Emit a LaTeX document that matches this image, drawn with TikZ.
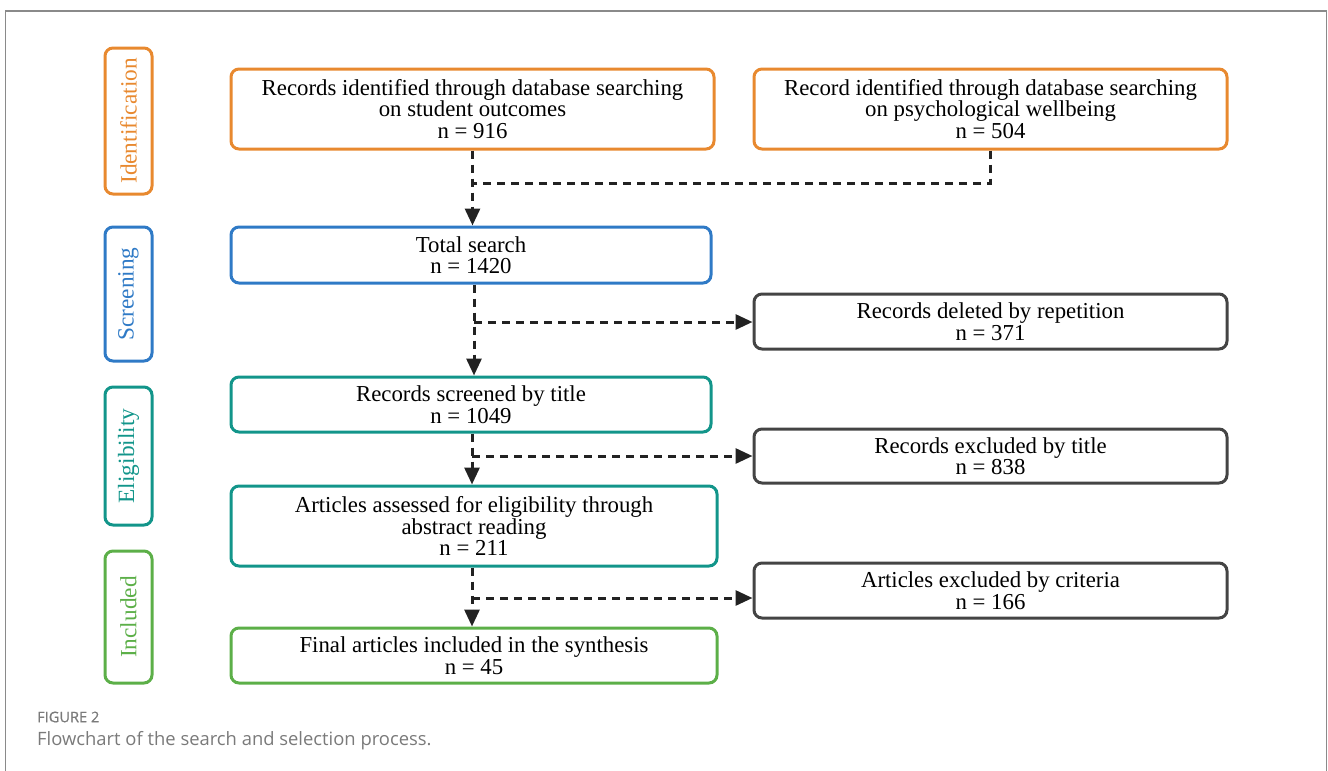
\documentclass[tikz,border=0pt]{standalone}
\usepackage{fontspec}
\setmainfont{Liberation Serif}
\newfontfamily\capfont{Open Sans}
\newfontfamily\capboldfont[FakeBold=0.6]{Open Sans}
\usetikzlibrary{arrows.meta}
\definecolor{cOrange}{HTML}{E8892F}
\definecolor{cBlue}{HTML}{2F7AC6}
\definecolor{cTeal}{HTML}{12958A}
\definecolor{cGreen}{HTML}{5CAF48}
\definecolor{cGray}{HTML}{444444}
\definecolor{cArrow}{HTML}{222222}
\definecolor{cFrame}{HTML}{8A8A8A}
\definecolor{cCap}{HTML}{7A7A7A}
\tikzset{
  mainbox/.style={draw, line width=3pt, rounded corners=8pt, align=center, inner sep=0pt,
    font=\fontsize{22.8}{21.6}\selectfont, text=black},
  sidebox/.style={draw, line width=3pt, rounded corners=8pt, rotate=90, inner sep=0pt,
    minimum height=47pt, font=\fontsize{23.3}{24}\selectfont},
  flowline/.style={line width=3pt, draw=cArrow, dash pattern=on 8pt off 6pt},
  flowarrow/.style={flowline, -{Triangle[length=17pt,width=15pt,fill=cArrow]}}
}
\begin{document}
\begin{tikzpicture}[x=1pt,y=-1pt]
\useasboundingbox (0,0) rectangle (1328,771);
% outer frame
\draw[cFrame, line width=1.5pt] (5.5,771) -- (5.5,11) -- (1326.5,11) -- (1326.5,771);

% side labels
\node[sidebox, draw=cOrange, text=cOrange, minimum width=146pt] (sid) at (128.5,121) {Identification};
\node[sidebox, draw=cBlue, text=cBlue, minimum width=134pt] (sscr) at (128.5,294) {Screening};
\node[sidebox, draw=cTeal, text=cTeal, minimum width=138pt] (selig) at (128.5,456) {Eligibility};
\node[sidebox, draw=cGreen, text=cGreen, minimum width=132pt] (sincl) at (128.5,617) {Included};

% main boxes
\node[mainbox, draw=cOrange, minimum width=483pt, minimum height=80pt] (b1) at (472.5,109)
  {Records identified through database searching\\on student outcomes\\n = 916};
\node[mainbox, draw=cOrange, minimum width=473pt, minimum height=80pt] (b2) at (990.5,109)
  {Record identified through database searching\\on psychological wellbeing\\n = 504};
\node[mainbox, draw=cBlue, minimum width=480pt, minimum height=56pt] (tot) at (471,255)
  {Total search\\n = 1420};
\node[mainbox, draw=cGray, minimum width=473pt, minimum height=55pt] (del) at (990.5,321.5)
  {Records deleted by repetition\\n = 371};
\node[mainbox, draw=cTeal, minimum width=480pt, minimum height=55pt] (scr) at (471,404.5)
  {Records screened by title\\n = 1049};
\node[mainbox, draw=cGray, minimum width=473pt, minimum height=54pt] (exc) at (990.5,456)
  {Records excluded by title\\n = 838};
\node[mainbox, draw=cTeal, minimum width=486pt, minimum height=80pt] (art) at (474,526)
  {Articles assessed for eligibility through\\abstract reading\\n = 211};
\node[mainbox, draw=cGray, minimum width=473pt, minimum height=55pt] (crit) at (990.5,590.5)
  {Articles excluded by criteria\\n = 166};
\node[mainbox, draw=cGreen, minimum width=486pt, minimum height=55pt] (fin) at (474,655.5)
  {Final articles included in the synthesis\\n = 45};

% connectors
\coordinate (j1) at (472.5,183);
\draw[flowarrow] (b1.south) -- (b1.south |- tot.north);
\draw[flowline] (b2.south) |- (j1);

\coordinate (j2) at (474,322);
\draw[flowarrow] (j2 |- tot.south) -- (j2 |- scr.north);
\draw[flowarrow] (j2) -- (j2 -| del.west);

\coordinate (j3) at (472,456);
\draw[flowarrow] (j3 |- scr.south) -- (j3 |- art.north);
\draw[flowarrow] (j3) -- (exc.west);

\coordinate (j4) at (472,598);
\draw[flowarrow] (j4 |- art.south) -- (j4 |- fin.north);
\draw[flowarrow] (j4) -- (j4 -| crit.west);

% caption
\node[anchor=west, text=cCap, font=\capboldfont\fontsize{14.6}{16}\selectfont, inner sep=0pt] (figlab) at (37,717) {FIGURE 2};
\node[anchor=west, text=cCap, font=\capfont\fontsize{18.4}{20}\selectfont, inner sep=0pt] (cap) at (37,741) {Flowchart of the search and selection process.};
\end{tikzpicture}
\end{document}
